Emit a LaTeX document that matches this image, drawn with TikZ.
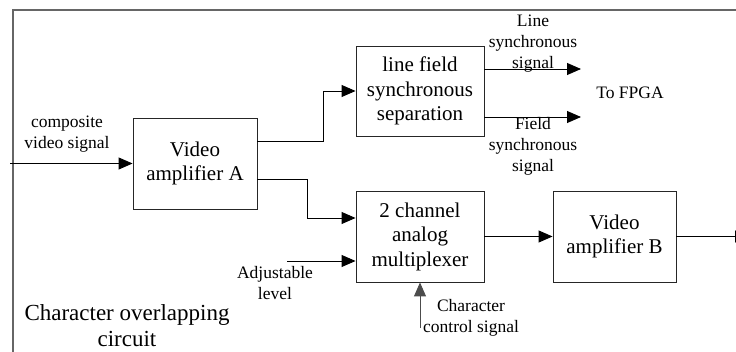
\documentclass[tikz,border=0pt]{standalone}
\usepackage{fontspec}
\setmainfont{Liberation Serif}
\usetikzlibrary{arrows.meta,calc}
\tikzset{
  blk/.style={draw=black!85, line width=0.9pt, minimum width=124pt, minimum height=91pt, inner sep=0pt, align=center, font=\fontsize{21}{24.5}\selectfont},
  lbl/.style={align=center, inner sep=0pt, font=\fontsize{17.5}{21}\selectfont},
  arr/.style={draw=black, line width=0.9pt, -{Triangle[length=14pt,width=12pt]}},
  frame/.style={draw=black!60, line width=1.2pt}
}
\begin{document}
\begin{tikzpicture}[x=1pt,y=-1pt]
\useasboundingbox (0,0) rectangle (736,352);
% frame
\coordinate (f1) at (13,400);
\coordinate (f2) at (13,10);
\coordinate (f3) at (760,10);
\draw[frame] (f1) -- (f2) -- (f3);
% blocks
\node[blk] (A) at (195,163.5) {Video\\amplifier A};
\node[blk, minimum width=128pt, minimum height=90pt] (sep) at (420,91) {line field\\synchronous\\separation};
\node[blk, minimum width=128pt] (mux) at (420,236.5) {2 channel\\analog\\multiplexer};
\node[blk, minimum width=123pt] (B) at (614.5,236.5) {Video\\amplifier B};
% coordinates
\coordinate (in) at (10,163.5);
\coordinate (adj) at (287,261);
\coordinate (ctrl) at (420,328);
\coordinate (out) at (749,236.5);
\coordinate (ls) at (581,69);
\coordinate (fs) at (581,117);
% connectors
\draw[arr] (in) -- (A.west);
\draw[arr] ([yshift=22.5pt]A.east) -- ++(66,0) |- (sep.west);
\draw[arr] ([yshift=-15.5pt]A.east) -- ++(50,0) |- ([yshift=18.5pt]mux.west);
\draw[arr] (adj) -- ([yshift=-24.5pt]mux.west);
\draw[arr, draw=black!70] (ctrl) -- (mux.south);
\draw[arr] (mux.east) -- (B.west);
\draw[arr] (B.east) -- (out);
\draw[arr] ([yshift=22pt]sep.east) -- (ls);
\draw[arr] ([yshift=-26pt]sep.east) -- (fs);
% labels
\node[lbl] (lcomp) at (67,134) {composite\\video signal};
\node[lbl] (lline) at (533,44) {Line\\synchronous\\signal};
\node[lbl] (lfield) at (533,146) {Field\\synchronous\\signal};
\node[lbl] (lfpga) at (630,93) {To FPGA};
\node[lbl] (ladj) at (275,283) {Adjustable\\level};
\node[lbl] (lctrl) at (471,318) {Character\\control signal};
\node[align=center, inner sep=0pt, font=\fontsize{23}{26}\selectfont] (ltitle) at (127,326) {Character overlapping\\circuit};
\end{tikzpicture}
\end{document}
